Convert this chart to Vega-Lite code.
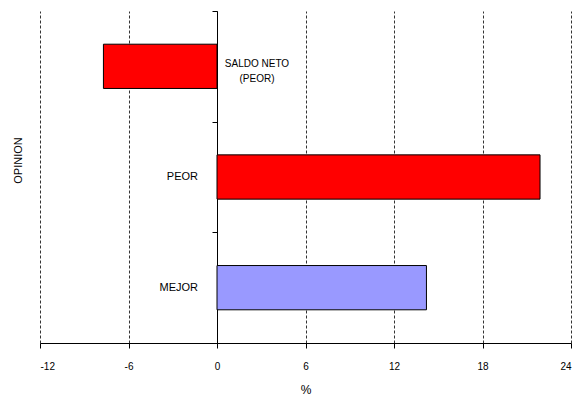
{
  "$schema": "https://vega.github.io/schema/vega-lite/v6.json",
  "autosize": "none",
  "width": 531,
  "height": 332,
  "padding": {"left": 40, "top": 11, "right": 3, "bottom": 57},
  "background": "white",
  "config": {"view": {"stroke": null}, "font": "Liberation Sans"},
  "data": {
    "values": [
      {"opinion": "SALDO NETO\n(PEOR)", "valor": -7.7},
      {"opinion": "PEOR", "valor": 21.9},
      {"opinion": "MEJOR", "valor": 14.2}
    ]
  },
  "encoding": {
    "y": {
      "field": "opinion",
      "type": "nominal",
      "sort": null,
      "scale": {"paddingInner": 0.6, "paddingOuter": 0.3},
      "axis": {
        "offset": -177,
        "labels": false,
        "tickOffset": -55.33,
        "tickSize": 5,
        "tickColor": "black",
        "domainColor": "black",
        "title": "OPINION",
        "titleFontSize": 11,
        "titleFontWeight": "normal",
        "titleColor": "black",
        "titleX": -199,
        "titleY": 149,
        "titleAngle": -90,
        "titleAlign": "center",
        "titleBaseline": "middle"
      }
    }
  },
  "layer": [
    {
      "mark": {"type": "bar", "stroke": "black", "strokeWidth": 1},
      "encoding": {
        "x": {
          "field": "valor",
          "type": "quantitative",
          "scale": {"domain": [-12, 24], "nice": false, "zero": false},
          "axis": {
            "values": [-12, -6, 0, 6, 12, 18, 24],
            "labelExpr": "'' + datum.value",
            "grid": true,
            "gridColor": "#333333",
            "gridDash": [3, 2],
            "gridWidth": 1,
            "gridOpacity": 1,
            "domainColor": "black",
            "tickColor": "black",
            "tickSize": 5,
            "labelFontSize": 10,
            "labelColor": "black",
            "labelPadding": 13,
            "title": "%",
            "titleFontSize": 12,
            "titleFontWeight": "normal",
            "titleColor": "black",
            "titlePadding": 13
          }
        },
        "color": {
          "field": "opinion",
          "type": "nominal",
          "scale": {"domain": ["SALDO NETO\n(PEOR)", "PEOR", "MEJOR"], "range": ["#FF0000", "#FF0000", "#9999FF"]},
          "legend": null
        }
      }
    },
    {
      "transform": [{"filter": "datum.valor >= 0"}],
      "mark": {"type": "text", "align": "right", "baseline": "middle", "dx": -19, "fontSize": 11, "color": "black"},
      "encoding": {
        "x": {"datum": 0, "type": "quantitative"},
        "text": {"field": "opinion"}
      }
    },
    {
      "transform": [{"filter": "datum.valor < 0"}],
      "mark": {"type": "text", "align": "center", "baseline": "middle", "dx": 40, "dy": -2, "fontSize": 10, "lineBreak": "\n", "lineHeight": 15, "color": "black"},
      "encoding": {
        "x": {"datum": 0, "type": "quantitative"},
        "text": {"field": "opinion"}
      }
    }
  ]
}
